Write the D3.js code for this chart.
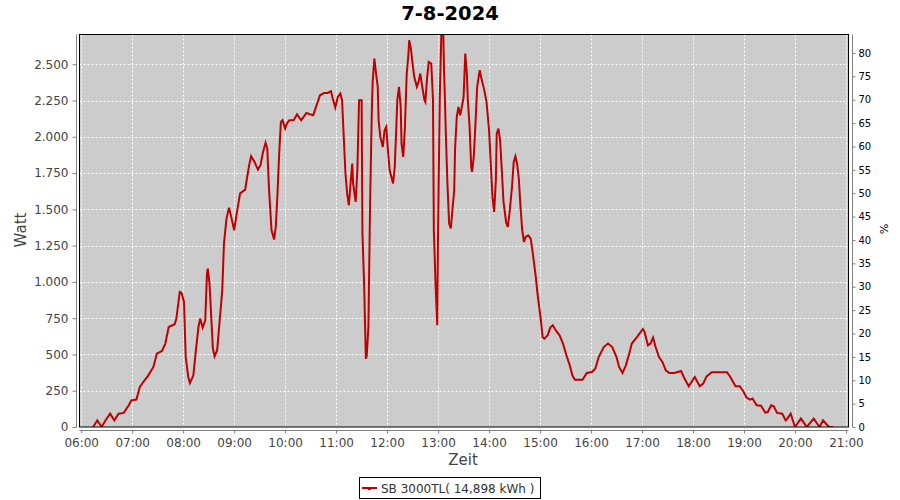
<!DOCTYPE html>
<html><head><meta charset="utf-8">
<script src="https://cdn.jsdelivr.net/npm/d3@7"></script>
<style>body{margin:0;background:#fff}svg{display:block}</style>
</head><body>
<svg id="c" width="900" height="500"></svg>
<script>
const title = "7-8-2024";
const seriesName = "SB 3000TL( 14,898 kWh )";
const times = ["06:14","06:19","06:24","06:28","06:34","06:39","06:44","06:50","06:56","06:59","07:05","07:09","07:13","07:19","07:25","07:29","07:35","07:39","07:43","07:50","07:52","07:56","07:58","08:01","08:03","08:06","08:08","08:12","08:15","08:18","08:20","08:23","08:26","08:28","08:29","08:31","08:35","08:37","08:40","08:43","08:46","08:48","08:51","08:54","08:57","09:00","09:03","09:07","09:13","09:15","09:18","09:20","09:24","09:28","09:31","09:34","09:37","09:39","09:41","09:44","09:47","09:49","09:51","09:53","09:55","09:57","10:00","10:02","10:05","10:10","10:14","10:19","10:25","10:33","10:37","10:41","10:46","10:50","10:54","10:56","10:59","11:02","11:05","11:07","11:09","11:11","11:13","11:15","11:17","11:19","11:20","11:23","11:25","11:27","11:30","11:31","11:33","11:35","11:36","11:38","11:40","11:42","11:43","11:45","11:47","11:49","11:50","11:52","11:55","11:57","11:59","12:01","12:03","12:07","12:09","12:11","12:12","12:14","12:16","12:17","12:19","12:21","12:23","12:25","12:26","12:28","12:30","12:32","12:35","12:37","12:39","12:42","12:44","12:45","12:47","12:49","12:52","12:54","12:55","12:57","12:59","13:00","13:02","13:04","13:06","13:07","13:08","13:09","13:11","13:13","13:15","13:17","13:19","13:20","13:22","13:24","13:26","13:28","13:30","13:32","13:33","13:34","13:35","13:37","13:39","13:40","13:42","13:44","13:46","13:49","13:51","13:54","13:57","14:00","14:02","14:04","14:06","14:08","14:09","14:11","14:13","14:15","14:17","14:20","14:22","14:24","14:27","14:29","14:31","14:33","14:35","14:37","14:39","14:41","14:43","14:46","14:49","14:51","14:53","14:55","14:57","14:59","15:01","15:03","15:05","15:09","15:12","15:15","15:19","15:23","15:27","15:31","15:35","15:38","15:41","15:45","15:50","15:55","16:01","16:05","16:09","16:15","16:20","16:25","16:30","16:33","16:37","16:41","16:45","16:48","16:54","17:01","17:03","17:07","17:10","17:13","17:16","17:20","17:24","17:28","17:32","17:38","17:46","17:50","17:55","18:02","18:08","18:12","18:16","18:22","18:40","18:44","18:50","18:55","18:59","19:03","19:07","19:10","19:15","19:20","19:25","19:28","19:32","19:35","19:39","19:45","19:49","19:51","19:55","20:00","20:07","20:14","20:22","20:29","20:33","20:40","20:45"];
const watts = [0,46,0,40,92,46,92,97,150,184,189,276,310,356,414,506,524,575,689,708,747,931,926,862,482,345,303,356,529,689,747,685,735,1057,1092,988,540,487,529,735,942,1264,1436,1512,1436,1356,1471,1610,1636,1712,1815,1866,1827,1774,1804,1896,1960,1919,1643,1356,1292,1379,1608,1884,2102,2114,2057,2091,2114,2114,2155,2114,2164,2148,2217,2286,2302,2302,2314,2264,2202,2274,2298,2252,1999,1747,1608,1528,1678,1815,1678,1551,1769,2252,2252,1333,975,471,490,689,1551,2171,2378,2539,2436,2344,2114,1999,1930,2045,2068,1907,1769,1678,1792,2091,2252,2344,2206,1953,1861,2068,2424,2562,2665,2608,2505,2412,2344,2378,2436,2321,2252,2240,2401,2516,2505,2252,1356,988,701,1368,2274,2750,2750,2459,2274,2045,1678,1402,1368,1505,1631,1919,2137,2206,2148,2206,2274,2574,2505,2420,2252,2080,1792,1758,1861,2091,2344,2459,2401,2332,2240,2045,1815,1585,1482,1700,2022,2057,1976,1769,1551,1413,1379,1471,1654,1827,1866,1815,1712,1516,1356,1275,1310,1321,1298,1218,1126,1034,919,827,735,620,609,632,685,701,662,632,575,494,425,356,326,326,326,372,379,402,482,551,575,551,482,414,372,425,506,575,620,675,655,563,575,616,551,482,448,391,372,372,386,334,281,345,281,299,349,377,377,345,281,281,248,203,189,196,150,147,99,103,150,143,97,92,46,58,92,0,58,0,58,0,46,0,0];
const wattTicks = [0,250,500,750,1000,1250,1500,1750,2000,2250,2500];
const pctTicks = [0,5,10,15,20,25,30,35,40,45,50,55,60,65,70,75,80];
const hourTicks = ["06:00","07:00","08:00","09:00","10:00","11:00","12:00","13:00","14:00","15:00","16:00","17:00","18:00","19:00","20:00","21:00"];

const svg = d3.select("#c");
const L = 79.5, R = 848.5, T = 34.5, B = 427;
const toH = s => { const [h,m] = s.split(":").map(Number); return h + m/60; };
const x = d3.scaleLinear().domain([5 + 58/60, 21.05]).range([L, R]);
const y = d3.scaleLinear().domain([0, 2705]).range([B, T]);
const yp = d3.scaleLinear().domain([0, 83.94]).range([B, T]);

svg.append("rect").attr("x",L).attr("y",T).attr("width",R-L).attr("height",B-T).attr("fill","#cccccc");

// grid
const g = svg.append("g");
g.selectAll(".vg").data(hourTicks).enter().append("line")
  .attr("x1",d=>Math.round(x(toH(d)))+0.5).attr("x2",d=>Math.round(x(toH(d)))+0.5)
  .attr("y1",T).attr("y2",B).attr("stroke","#fff").attr("stroke-dasharray","2,2");
g.selectAll(".hg").data(wattTicks).enter().append("line")
  .attr("x1",L).attr("x2",R)
  .attr("y1",d=>Math.round(y(d))+0.5).attr("y2",d=>Math.round(y(d))+0.5)
  .attr("stroke","#fff").attr("stroke-dasharray","2,2");

// line
svg.append("clipPath").attr("id","clip").append("rect").attr("x",L).attr("y",T).attr("width",R-L).attr("height",B-T);
const data = times.map((t,i)=>({t:toH(t), w:watts[i]}));
svg.append("path").datum(data).attr("clip-path","url(#clip)")
  .attr("fill","none").attr("stroke","#bf0000").attr("stroke-width",2).attr("stroke-linejoin","miter")
  .attr("d", d3.line().x(d=>x(d.t)).y(d=>y(d.w)));

// plot border
svg.append("rect").attr("x",L).attr("y",T).attr("width",R-L).attr("height",B-T)
  .attr("fill","none").attr("stroke","#000").attr("stroke-width",1);

const font = "DejaVu Sans, Verdana, sans-serif";
// left axis
const la = svg.append("g").attr("transform","translate(76.5,0)")
  .call(d3.axisLeft(y).tickValues(wattTicks).tickSize(4).tickPadding(4)
    .tickFormat(d=>d3.format(",")(d).replace(/,/g,".")));
// right axis
const ra = svg.append("g").attr("transform","translate(852.5,0)")
  .call(d3.axisRight(yp).tickValues(pctTicks).tickSize(3).tickPadding(3));
// bottom axis
const ba = svg.append("g").attr("transform","translate(0,430.5)")
  .call(d3.axisBottom(x).tickValues(hourTicks.map(toH)).tickSize(3).tickPadding(5)
    .tickFormat((d,i)=>hourTicks[i]));
[la,ba].forEach(a=>{
  a.select(".domain").attr("stroke","#808080");
  a.selectAll(".tick line").attr("stroke","#808080");
  a.selectAll("text").attr("fill","#444").style("font-family",font).style("font-size","12px");
});
ra.select(".domain").attr("stroke","#808080");
ra.selectAll(".tick line").attr("stroke","#808080");
ra.selectAll("text").attr("fill","#000").style("font-family",font).style("font-size","10px");
la.select(".domain").attr("d",`M0,${T}V${B}`);
ra.select(".domain").attr("d",`M0,${T}V${B}`);
ba.select(".domain").attr("d",`M${L},0H${R}`);

// title and axis labels
svg.append("text").attr("x",450).attr("y",20).attr("text-anchor","middle")
  .style("font-family",font).style("font-weight","bold").style("font-size","19.5px").attr("fill","#000").text(title);
svg.append("text").attr("x",463).attr("y",465).attr("text-anchor","middle")
  .style("font-family",font).style("font-size","15px").attr("fill","#444").text("Zeit");
svg.append("text").attr("transform","translate(26,230) rotate(-90)").attr("text-anchor","middle")
  .style("font-family",font).style("font-size","15px").attr("fill","#444").text("Watt");
svg.append("text").attr("transform","translate(880,229) rotate(90)").attr("text-anchor","middle")
  .style("font-family",font).style("font-size","11px").attr("fill","#000").text("%");

// legend
const lg = svg.append("g");
lg.append("rect").attr("x",359.5).attr("y",477.5).attr("width",181).attr("height",21)
  .attr("fill","#fff").attr("stroke","#000");
lg.append("line").attr("x1",362).attr("x2",377).attr("y1",488).attr("y2",488).attr("stroke","#bf0000").attr("stroke-width",2);
lg.append("rect").attr("x",368).attr("y",487).attr("width",3).attr("height",3).attr("fill","#bf0000");
lg.append("text").attr("x",381).attr("y",492.5).style("font-family",font).style("font-size","12px")
  .attr("fill","#333").text(seriesName);
</script>
</body></html>
